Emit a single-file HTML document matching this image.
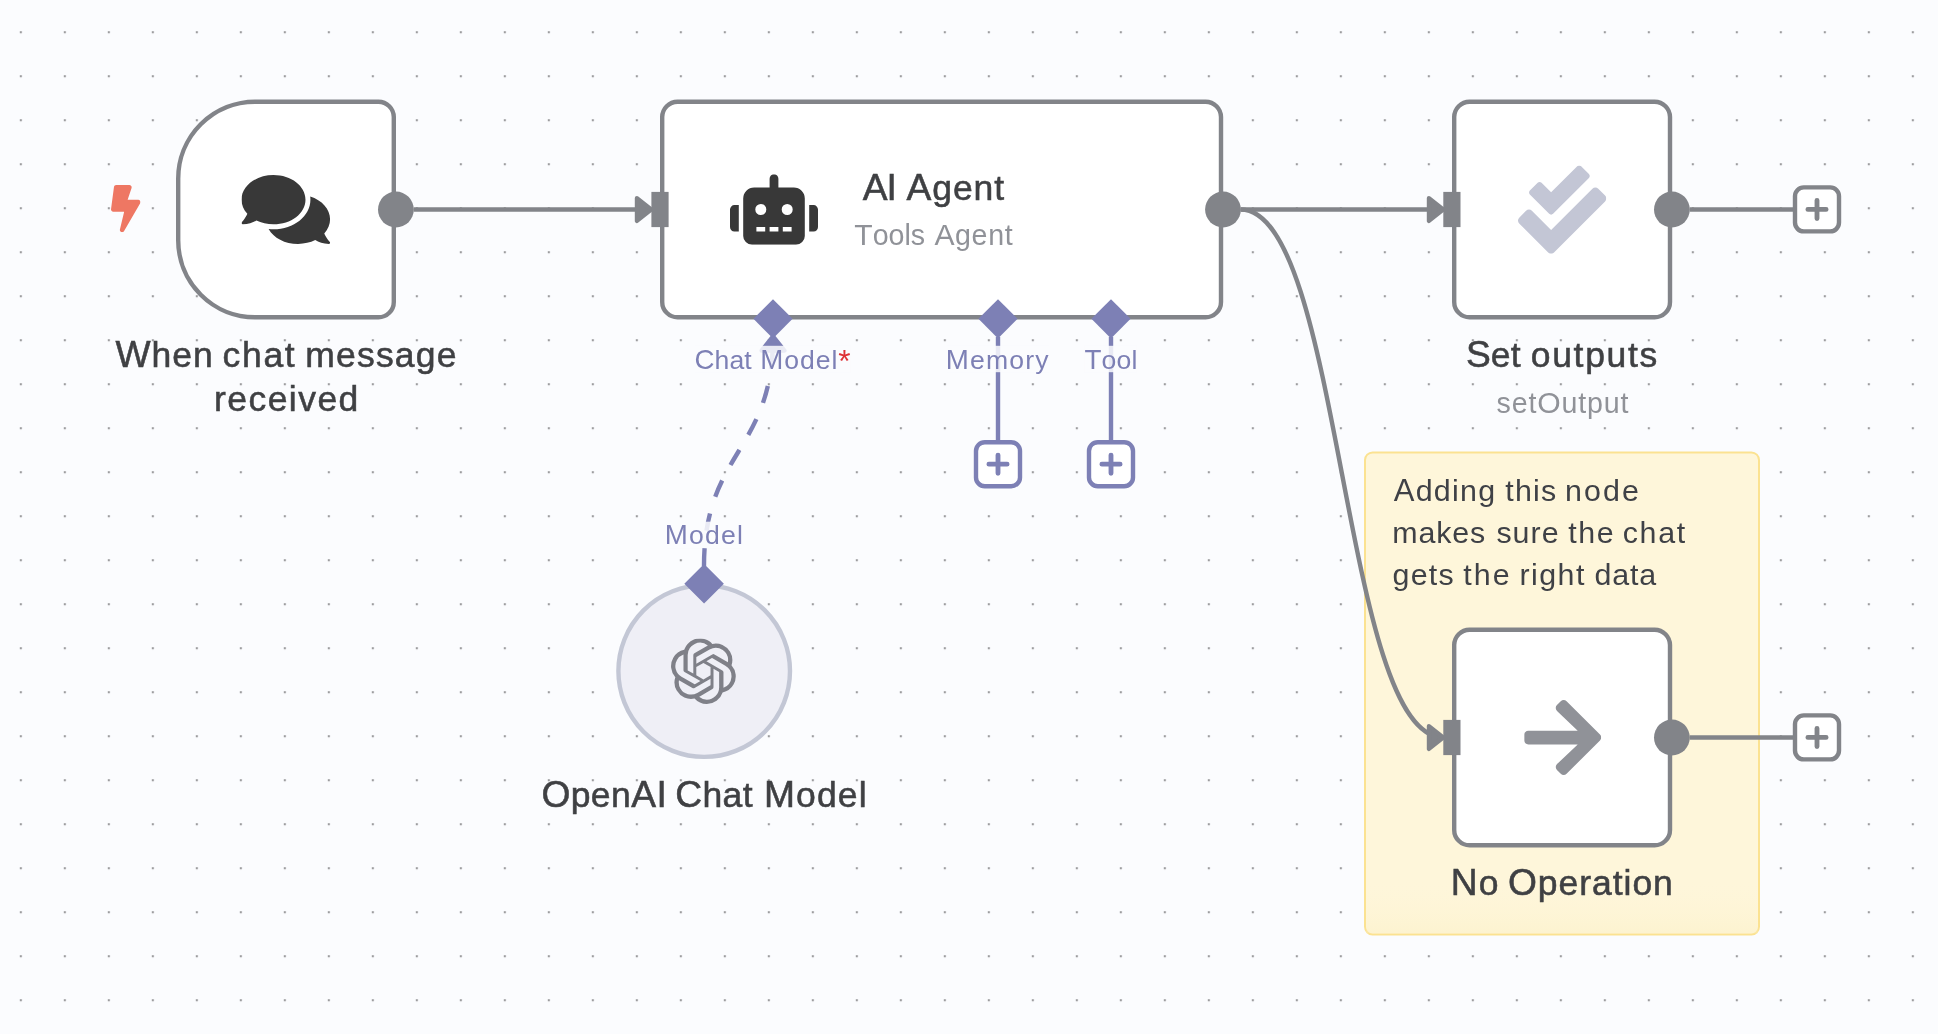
<!DOCTYPE html>
<html lang="en">
<head>
<meta charset="utf-8">
<title>n8n workflow canvas</title>
<style>
  html, body { margin: 0; padding: 0; }
  body { width: 1938px; height: 1034px; overflow: hidden; background: #fbfcfe; font-family: "Liberation Sans", sans-serif; }
  svg { display: block; position: absolute; left: 0; top: 0; }
  body > svg { will-change: transform; }
  text { font-family: "Liberation Sans", sans-serif; }
  .lbl { font-size: 35.5px; fill: #3f4043; stroke: #3f4043; stroke-width: 0.55px; }
  .sub { font-size: 28.6px; fill: #909298; }
  .hl  { font-size: 26.6px; fill: #7d80b5; }
  .note { font-size: 30.4px; fill: #3f4146; }
</style>
</head>
<body>
<svg width="1938" height="1034" viewBox="0 0 1938 1034">
  <defs>
    <pattern id="dots" x="-2.2" y="9.2" width="44" height="44" patternUnits="userSpaceOnUse">
      <rect x="22" y="22" width="2.1" height="2.1" fill="#9c9c9e"/>
    </pattern>
    <linearGradient id="stickyfade" x1="0" y1="0" x2="0" y2="1">
      <stop offset="0" stop-color="#fef6da" stop-opacity="0"/>
      <stop offset="1" stop-color="#fbeebf" stop-opacity="0.38"/>
    </linearGradient>
    <!-- arrow head: tip at 0,0 pointing +x -->
    <g id="arrow">
      <polygon points="-14.25,-11.4 0,0 -14.25,11.4" stroke-width="4.3" stroke-linejoin="round" stroke-linecap="round"/>
    </g>
    <!-- plus box centred at 0,0 -->
    <g id="plusbox">
      <rect x="-22" y="-22" width="44" height="44" rx="8.8" ry="8.8" fill="#ffffff" stroke-width="4.4"/>
      <path d="M-9.1,0H9.1M0,-9.1V9.1" stroke-width="4.84" stroke-linecap="round" fill="none"/>
    </g>
  </defs>

  <!-- canvas dots -->
  <rect x="0" y="0" width="1938" height="1034" fill="url(#dots)"/>

  <!-- sticky note -->
  <g id="sticky">
    <rect x="1365" y="452.4" width="394" height="482" rx="7.6" ry="7.6" fill="#fef6da" stroke="#fbe291" stroke-width="2"/>
    <rect x="1366.2" y="880" width="391.6" height="53.3" fill="url(#stickyfade)"/>
  </g>

  <!-- edges -->
  <g id="edges" fill="none" stroke="#828489" stroke-width="4.4">
    <path d="M413.6,209.5H645"/>
    <path d="M1240.8,209.5H1437"/>
    <path d="M1240.6,209.5C1341.9,209.5 1341.9,737.5 1443.2,737.5"/>
    <path d="M1689.6,209.5H1793"/>
    <path d="M1689.6,737.5H1793"/>
  </g>
  <g id="arrows" fill="#828489" stroke="#828489">
    <use href="#arrow" x="651.2" y="209.5"/>
    <use href="#arrow" x="1443.2" y="209.5"/>
    <use href="#arrow" x="1443.2" y="737.5"/>
  </g>

  <!-- AI sub-connections -->
  <g id="aiedges" fill="none" stroke="#7d80b5" stroke-width="4.4">
    <path d="M998,337V440"/>
    <path d="M1111,337V440"/>
    <path d="M704,565.9C704,451.5 773,451.5 773,337.1" stroke-dasharray="17.6 17.6"/>
  </g>
  <g fill="#7d80b5" stroke="#7d80b5">
    <use href="#arrow" transform="translate(773,336.4) rotate(-90)"/>
  </g>
  <g stroke="#7d80b5">
    <use href="#plusbox" x="998" y="464.2"/>
    <use href="#plusbox" x="1111" y="464.2"/>
  </g>
  <g stroke="#828489">
    <use href="#plusbox" x="1817" y="209.4"/>
    <use href="#plusbox" x="1817" y="737.4"/>
  </g>

  <!-- nodes -->
  <g id="nodes" fill="#ffffff" stroke="#828489" stroke-width="4.4">
    <!-- trigger -->
    <path d="M255.2,101.7H378.4A15.4,15.4 0 0 1 393.8,117.1V301.9A15.4,15.4 0 0 1 378.4,317.3H255.2A77,77 0 0 1 178.2,240.3V178.7A77,77 0 0 1 255.2,101.7Z"/>
    <!-- AI Agent -->
    <rect x="662.2" y="101.7" width="558.8" height="215.6" rx="15.4" ry="15.4"/>
    <!-- Set outputs -->
    <rect x="1454.2" y="101.7" width="215.8" height="215.6" rx="15.4" ry="15.4"/>
    <!-- No Operation -->
    <rect x="1454.2" y="629.7" width="215.8" height="215.6" rx="15.4" ry="15.4"/>
  </g>
  <!-- OpenAI model node -->
  <circle cx="704.2" cy="671.1" r="85.8" fill="#efeff6" stroke="#c3c7d5" stroke-width="4.4"/>

  <!-- handles -->
  <g id="handles" fill="#828489">
    <circle cx="395.9" cy="209.5" r="17.9"/>
    <circle cx="1223" cy="209.5" r="17.9"/>
    <circle cx="1671.9" cy="209.5" r="17.9"/>
    <circle cx="1671.9" cy="737.5" r="17.9"/>
    <rect x="651.4" y="191.9" width="17.2" height="35.2"/>
    <rect x="1443.3" y="191.9" width="17.2" height="35.2"/>
    <rect x="1443.3" y="719.9" width="17.2" height="35.2"/>
  </g>
  <g id="diamonds" fill="#7d80b5">
    <polygon points="773,299.2 792.6,318.8 773,338.4 753.4,318.8"/>
    <polygon points="998,299.2 1017.6,318.8 998,338.4 978.4,318.8"/>
    <polygon points="1111,299.2 1130.6,318.8 1111,338.4 1091.4,318.8"/>
    <polygon points="704.1,563.9 723.9,583.7 704.1,603.5 684.3,583.7"/>
  </g>

  <!-- icons -->
  <!-- bolt -->
  <svg x="111" y="185.1" width="29.5" height="47.2" viewBox="0 0 320 512">
    <path fill="#ee7763" d="M296 160H180.600l42.600-129.800C227.200 15 215.700 0 200 0H56C44 0 33.800 8.900 32.200 20.800l-32 240C-1.700 275.200 9.500 288 24 288h118.700L96.600 482.500c-3.600 15.200 8 29.500 23.300 29.500 8.400 0 16.400-4.400 20.800-12l176-304c9.300-15.900-2.200-36-20.700-36z"/>
  </svg>
  <!-- comments -->
  <svg x="241.500" y="170.100" width="88.600" height="78.800" viewBox="0 0 576 512">
    <path fill="#383838" d="M416 192c0-88.400-93.100-160-208-160S0 103.600 0 192c0 34.300 14.100 65.900 38 92-13.400 30.200-35.500 54.200-35.800 54.500-2.200 2.300-2.800 5.700-1.500 8.700S4.800 352 8 352c36.600 0 66.900-12.300 88.700-25 32.200 15.700 70.300 25 111.300 25 114.900 0 208-71.600 208-160zm122 220c23.900-26 38-57.700 38-92 0-66.900-53.500-124.200-129.300-148.100.9 6.600 1.300 13.300 1.300 20.100 0 105.900-107.700 192-240 192-10.800 0-21.300-.8-31.700-1.900C207.800 439.600 281.800 480 368 480c41 0 79.100-9.200 111.300-25 21.800 12.700 52.100 25 88.700 25 3.200 0 6.100-1.900 7.400-4.900 1.300-3 .7-6.400-1.500-8.700-.3-.3-22.400-24.200-35.800-54.500z"/>
  </svg>
  <!-- robot -->
  <svg x="730" y="174.300" width="88" height="70.400" viewBox="0 0 640 512">
    <path fill="#383838" d="M32,224H64V416H32A31.962,31.962,0,0,1,0,384V256A31.962,31.962,0,0,1,32,224Zm512-48V448a64.063,64.063,0,0,1-64,64H160a64.063,64.063,0,0,1-64-64V176a79.974,79.974,0,0,1,80-80H288V32a32,32,0,0,1,64,0V96H464A79.974,79.974,0,0,1,544,176ZM264,256a40,40,0,1,0-40,40A39.997,39.997,0,0,0,264,256Zm-8,128H192v32h64Zm96,0H288v32h64ZM456,256a40,40,0,1,0-40,40A39.997,39.997,0,0,0,456,256Zm-8,128H384v32h64ZM640,256V384a31.962,31.962,0,0,1-32,32H576V224h32A31.962,31.962,0,0,1,640,256Z"/>
  </svg>
  <!-- check-double -->
  <svg x="1518" y="165.400" width="88.300" height="88.300" viewBox="0 0 512 512">
    <path fill="#c3c6d5" d="M505 174.800l-39.600-39.600c-9.400-9.400-24.600-9.400-33.900 0L192 374.700 80.600 263.200c-9.400-9.400-24.600-9.400-33.900 0L7 302.900c-9.400 9.400-9.400 24.600 0 34L175 505c9.400 9.400 24.600 9.400 33.900 0l296-296.200c9.400-9.500 9.400-24.700.1-34zm-324.300 106c6.200 6.300 16.400 6.300 22.600 0l208-208.200c6.200-6.300 6.200-16.400 0-22.600L366.100 4.700c-6.200-6.300-16.400-6.300-22.600 0L192 156.200l-55.400-55.500c-6.200-6.300-16.400-6.300-22.600 0L68.700 146c-6.200 6.300-6.200 16.400 0 22.600l112 112.200z"/>
  </svg>
  <!-- arrow-right -->
  <svg x="1524.200" y="693.500" width="77" height="88" viewBox="0 0 448 512">
    <path fill="#909298" d="M190.500 66.900l22.200-22.200c9.400-9.400 24.600-9.400 33.900 0L441 239c9.400 9.400 9.400 24.600 0 33.900L246.600 467.300c-9.400 9.400-24.600 9.400-33.900 0l-22.200-22.200c-9.500-9.500-9.300-25 .4-34.300L311.400 296H24c-13.300 0-24-10.700-24-24v-32c0-13.300 10.700-24 24-24h287.400L190.900 101.200c-9.800-9.300-10-24.800-.4-34.300z"/>
  </svg>
  <!-- openai -->
  <svg x="670.600" y="638.400" width="65.600" height="65.600" viewBox="0 0 24 24">
    <path fill="#7f8088" d="M22.282 9.821a5.985 5.985 0 0 0-.516-4.910 6.046 6.046 0 0 0-6.510-2.900A6.065 6.065 0 0 0 4.981 4.180a5.985 5.985 0 0 0-3.998 2.900 6.046 6.046 0 0 0 .743 7.097 5.980 5.980 0 0 0 .510 4.911 6.051 6.051 0 0 0 6.515 2.900A5.985 5.985 0 0 0 13.260 24a6.056 6.056 0 0 0 5.772-4.206 5.990 5.990 0 0 0 3.997-2.900 6.056 6.056 0 0 0-.747-7.073zM13.260 22.430a4.476 4.476 0 0 1-2.876-1.040l.141-.081 4.779-2.758a.795.795 0 0 0 .392-.681v-6.737l2.020 1.168a.071.071 0 0 1 .038.052v5.583a4.504 4.504 0 0 1-4.494 4.494zM3.600 18.304a4.470 4.470 0 0 1-.535-3.014l.142.085 4.783 2.759a.771.771 0 0 0 .780 0l5.843-3.369v2.332a.080.080 0 0 1-.033.062L9.740 19.950a4.500 4.500 0 0 1-6.140-1.646zM2.340 7.896a4.485 4.485 0 0 1 2.366-1.973V11.600a.766.766 0 0 0 .388.676l5.815 3.355-2.020 1.168a.076.076 0 0 1-.071 0l-4.830-2.786A4.504 4.504 0 0 1 2.340 7.872zm16.597 3.855l-5.833-3.387L15.119 7.200a.076.076 0 0 1 .071 0l4.830 2.791a4.494 4.494 0 0 1-.676 8.105v-5.678a.790.790 0 0 0-.407-.667zm2.010-3.023l-.141-.085-4.774-2.782a.776.776 0 0 0-.785 0L9.409 9.230V6.897a.066.066 0 0 1 .028-.061l4.830-2.787a4.500 4.500 0 0 1 6.680 4.660zm-12.640 4.135l-2.020-1.164a.080.080 0 0 1-.038-.057V6.075a4.500 4.500 0 0 1 7.375-3.453l-.142.080L8.704 5.460a.795.795 0 0 0-.393.681zm1.097-2.365l2.602-1.500 2.607 1.500v2.999l-2.597 1.500-2.607-1.500z"/>
  </svg>

  <!-- handle label backgrounds -->
  <g fill="#fafcfe" fill-opacity="0.86">
    <rect x="695" y="345.800" width="155.500" height="26.400"/>
    <rect x="947" y="345.800" width="102" height="26.400"/>
    <rect x="1084.500" y="345.800" width="52" height="26.400"/>
    <rect x="666.400" y="521.700" width="75.600" height="26.400"/>
  </g>

  <!-- text -->
  <text class="lbl" x="115.40" y="366.8" textLength="97.28" lengthAdjust="spacing"><tspan style="font-size:37.2px">W</tspan>hen</text>
  <text class="lbl" x="222.61" y="366.8" textLength="72.07" lengthAdjust="spacing">chat</text>
  <text class="lbl" x="305.34" y="366.8" textLength="151.08" lengthAdjust="spacing">message</text>
  <text class="lbl" x="214.05" y="410.8" textLength="144.26" lengthAdjust="spacing">received</text>
  <text class="lbl" x="862.83" y="199.8" textLength="34.10" lengthAdjust="spacing"><tspan style="font-size:37.2px">AI</tspan></text>
  <text class="lbl" x="906.49" y="199.8" textLength="97.60" lengthAdjust="spacing"><tspan style="font-size:37.2px">A</tspan>gent</text>
  <text class="sub" x="854.27" y="244.9" textLength="70.85" lengthAdjust="spacing"><tspan style="font-size:30.1px">T</tspan>ools</text>
  <text class="sub" x="934.38" y="244.9" textLength="78.27" lengthAdjust="spacing"><tspan style="font-size:30.1px">A</tspan>gent</text>
  <text class="hl" x="694.41" y="368.9" textLength="57.25" lengthAdjust="spacing"><tspan style="font-size:27.7px">C</tspan>hat</text>
  <text class="hl" x="760.23" y="368.9" textLength="77.28" lengthAdjust="spacing"><tspan style="font-size:27.7px">M</tspan>odel</text>
  <text class="hl" x="945.75" y="368.9" textLength="102.82" lengthAdjust="spacing"><tspan style="font-size:27.7px">M</tspan>emory</text>
  <text class="hl" x="1084.52" y="368.9" textLength="52.96" lengthAdjust="spacing"><tspan style="font-size:27.7px">T</tspan>ool</text>
  <text class="hl" x="664.67" y="544" textLength="78.18" lengthAdjust="spacing"><tspan style="font-size:27.7px">M</tspan>odel</text>
  <text class="lbl" x="541.38" y="807" textLength="125.34" lengthAdjust="spacing"><tspan style="font-size:37.2px">O</tspan>pen<tspan style="font-size:37.2px">AI</tspan></text>
  <text class="lbl" x="675.19" y="807" textLength="77.33" lengthAdjust="spacing"><tspan style="font-size:37.2px">C</tspan>hat</text>
  <text class="lbl" x="763.97" y="807" textLength="102.67" lengthAdjust="spacing"><tspan style="font-size:37.2px">M</tspan>odel</text>
  <text class="lbl" x="1466.03" y="366.5" textLength="54.49" lengthAdjust="spacing"><tspan style="font-size:37.2px">S</tspan>et</text>
  <text class="lbl" x="1530.74" y="366.5" textLength="126.56" lengthAdjust="spacing">outputs</text>
  <text class="sub" x="1496.50" y="413.1" textLength="131.95" lengthAdjust="spacing">set<tspan style="font-size:30.1px">O</tspan>utput</text>
  <text class="note" x="1393.78" y="501.3" textLength="101.32" lengthAdjust="spacing"><tspan style="font-size:31px">A</tspan>dding</text>
  <text class="note" x="1505.36" y="501.3" textLength="50.91" lengthAdjust="spacing">this</text>
  <text class="note" x="1564.97" y="501.3" textLength="73.82" lengthAdjust="spacing">node</text>
  <text class="note" x="1392.33" y="543.1" textLength="92.80" lengthAdjust="spacing">makes</text>
  <text class="note" x="1496.38" y="543.1" textLength="62.22" lengthAdjust="spacing">sure</text>
  <text class="note" x="1568.27" y="543.1" textLength="45.33" lengthAdjust="spacing">the</text>
  <text class="note" x="1622.65" y="543.1" textLength="62.53" lengthAdjust="spacing">chat</text>
  <text class="note" x="1392.53" y="585.1" textLength="61.05" lengthAdjust="spacing">gets</text>
  <text class="note" x="1463.35" y="585.1" textLength="46.33" lengthAdjust="spacing">the</text>
  <text class="note" x="1519.41" y="585.1" textLength="64.97" lengthAdjust="spacing">right</text>
  <text class="note" x="1594.61" y="585.1" textLength="61.49" lengthAdjust="spacing">data</text>
  <text class="lbl" x="1450.78" y="895" textLength="47.66" lengthAdjust="spacing"><tspan style="font-size:37.2px">N</tspan>o</text>
  <text class="lbl" x="1507.95" y="895" textLength="164.89" lengthAdjust="spacing"><tspan style="font-size:37.2px">O</tspan>peration</text>
  <text x="838.3" y="372.1" style="font-size:31.6px;fill:#de3236">*</text>
</svg>
</body>
</html>
